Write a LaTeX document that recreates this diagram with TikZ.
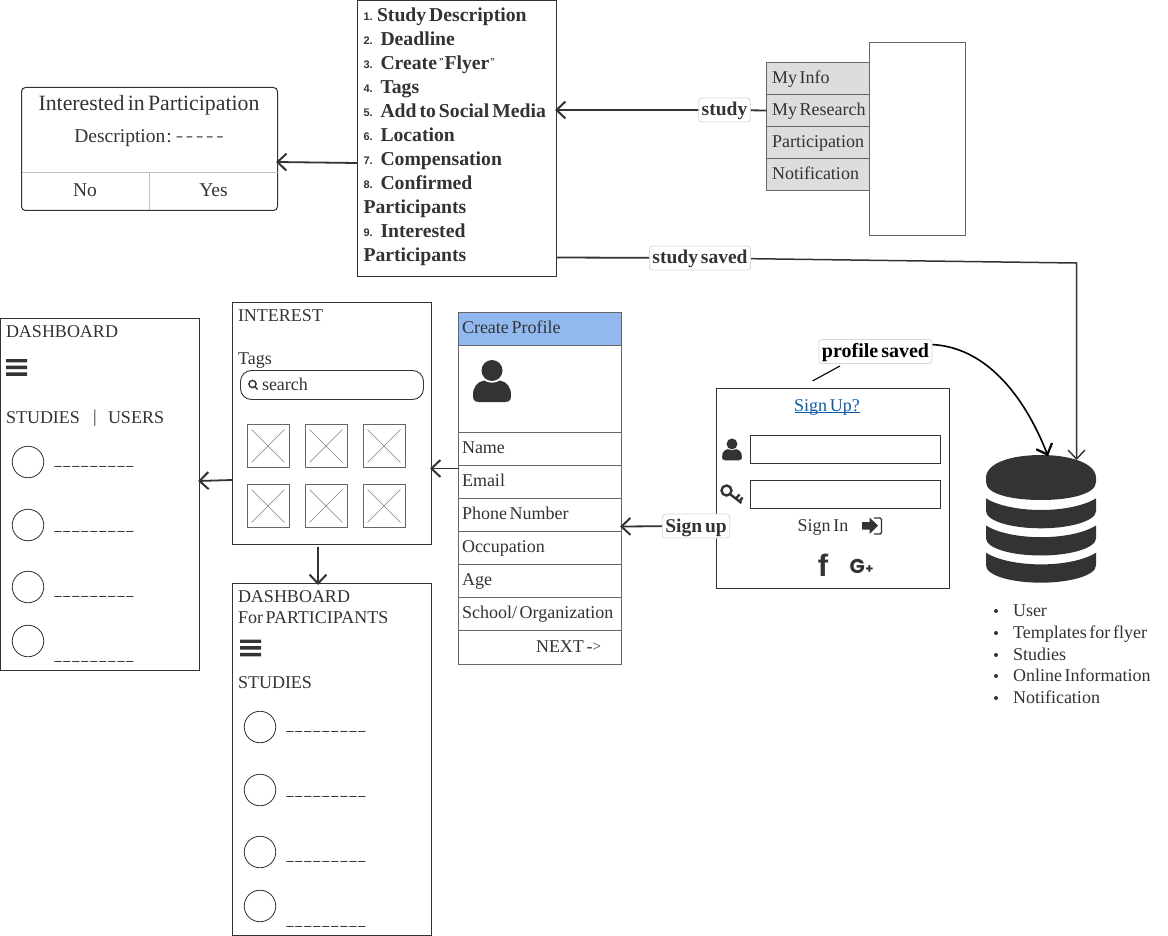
\documentclass[tikz,border=0pt]{standalone}
\usepackage{fontspec}
\setmainfont[WordSpace=0.6]{Liberation Serif}
\newfontfamily\numfont{Liberation Sans}
\newfontfamily\gfont{Poppins}
\usetikzlibrary{arrows.meta,shapes.geometric}
\definecolor{ink}{HTML}{333333}
\definecolor{edgeg}{HTML}{666666}
\definecolor{menug}{HTML}{DDDDDD}
\definecolor{headb}{HTML}{91B9F0}
\definecolor{linkb}{HTML}{0B5CA8}
\tikzset{
 x=1pt,y=-1pt,
 every node/.style={text=ink,inner sep=0pt,outer sep=0pt,font=\fontsize{18}{20}\selectfont},
 txt/.style={anchor=west,text height=12pt,text depth=4pt,yshift=-2.2pt},
 frame/.style={draw=ink,line width=1pt,fill=white},
 greybox/.style={draw=edgeg,line width=1pt},
 barb/.style={-{Straight Barb[length=9pt,width=17pt,line width=2pt]}},
 conn/.style={draw=ink,line width=1.8pt,barb},
 plainconn/.style={draw=ink,line width=1.8pt},
 tag/.style={draw=black!15,fill=white,rounded corners=3pt,line width=0.8pt,inner sep=3pt,text height=15pt,text depth=3pt,font=\fontsize{19.5}{20}\selectfont\bfseries},
 thin box/.style={draw=edgeg,line width=0.9pt},
 xline/.style={draw=black!50,line width=0.5pt},
 circ/.style={circle,draw=ink,line width=0.8pt,minimum size=31.5pt},
 dash text/.style={anchor=west,text height=10pt,text depth=4pt,yshift=1pt,font=\fontsize{14}{16}\selectfont\bfseries},
 boldlist/.style={anchor=west,text height=14pt,text depth=5pt,yshift=-2pt,font=\fontsize{19.7}{22}\selectfont\bfseries},
 num/.style={anchor=west,font=\fontsize{11}{12}\selectfont\numfont\bfseries},
}
\newcommand{\hamb}[2]{\fill[ink] (#1,#2) rectangle +(21,3.4) (#1,#2+6.7) rectangle +(21,3.4) (#1,#2+13.4) rectangle +(21,3.4);}
\newcommand{\person}[3]{% x centre, y top, scale
 \fill[ink] (#1,#2+#3*10.5) circle (#3*10.5);
 \fill[ink] (#1-#3*13,#2+#3*42) .. controls (#1-#3*19,#2+#3*42) and (#1-#3*19,#2+#3*38) .. (#1-#3*19,#2+#3*35)
   .. controls (#1-#3*19,#2+#3*27) and (#1-#3*15,#2+#3*22) .. (#1-#3*8,#2+#3*20.5)
   .. controls (#1-#3*3,#2+#3*23.5) and (#1+#3*3,#2+#3*23.5) .. (#1+#3*8,#2+#3*20.5)
   .. controls (#1+#3*15,#2+#3*22) and (#1+#3*19,#2+#3*27) .. (#1+#3*19,#2+#3*35)
   .. controls (#1+#3*19,#2+#3*38) and (#1+#3*19,#2+#3*42) .. (#1+#3*13,#2+#3*42) -- cycle;}
\newcommand{\xbox}[2]{\draw[thin box] (#1,#2) rectangle +(41.5,43);
 \draw[xline] (#1+4,#2+5) -- (#1+37,#2+38) (#1+37,#2+5) -- (#1+4,#2+38);}
\newcommand{\dashes}{\_\kern2pt\_\kern2pt\_\kern2pt\_\kern2pt\_\kern2pt\_\kern2pt\_\kern2pt\_\kern2pt\_}
\newcommand{\smq}{{\raisebox{5pt}{\fontsize{9}{9}\selectfont"}}}
\begin{document}
\begin{tikzpicture}
\useasboundingbox (0,0) rectangle (1168,936);
\fill[white] (0,0) rectangle (1168,936);

% study list box
\node[frame,minimum width=199pt,minimum height=276pt,anchor=north west] (list) at (357.5,0.5) {};
\foreach \n/\t/\y/\xo in {1./Study Description/15/377,2./Deadline/39/380.5,3./{Create\kern2pt\smq\kern1ptFlyer\kern1pt\smq}/63/380.5,4./Tags/87/380.5,5./Add to Social Media/111/380.5,6./Location/135/380.5,7./Compensation/159/380.5,8./Confirmed/183/380.5,9./Interested/231/380.5}
 {\node[boldlist] (li\y) at (\xo,\y) {\t};
  \node[num] (ln\y) at (363.5,\y+2) {\n};}
\node[boldlist] (lp1) at (363.5,207) {Participants};
\node[boldlist] (lp2) at (363.5,255) {Participants};

% interested box
\node[draw=ink,line width=1pt,rounded corners=4pt,minimum width=256pt,minimum height=123pt,anchor=north west] (intr) at (21.5,87.5) {};
\node (intrt) at (149,105.5) {\fontsize{21.8}{24}\selectfont Interested in Participation};
\node (intrd) at (149,138.5) {\fontsize{19.5}{22}\selectfont Description{\kern1pt:}\kern4pt {\color{black!55}\fontsize{22}{22}\selectfont-\kern2.8pt-\kern2.8pt-\kern2.8pt-\kern2.8pt-}};
\draw[draw=black!25,line width=0.8pt] (21.5,172) -- (277.5,172) (149.5,172) -- (149.5,210.5);
\node (no) at (85,190) {\fontsize{19.5}{22}\selectfont No};
\node (yes) at (213.5,190) {\fontsize{19.5}{22}\selectfont Yes};

% menu
\node[greybox,minimum width=96pt,minimum height=193pt,anchor=north west] (panel) at (869.5,42.5) {};
\foreach \t/\y/\nm in {My Info/62.5/ma,My Research/94.5/mb,Participation/126.5/mc,Notification/158.5/md}
 {\node[greybox,fill=menug,minimum width=103pt,minimum height=32pt,anchor=north west] (\nm) at (766.5,\y) {};
  \node[txt] at (772,\y+15) {\t};}

% dashboard 1
\node[frame,minimum width=199pt,minimum height=352pt,anchor=north west] (dash) at (0.5,318.5) {};
\node[txt] at (6,331) {DASHBOARD};
\hamb{6}{359}
\node[txt] at (6,417.5) {STUDIES};
\node at (95,418) {|};
\node[txt] at (108,417.5) {USERS};
\foreach \y/\d in {462/463,525/528,587/593,641/658}{
 \node[circ] at (28,\y) {};
 \node[dash text] at (54.5,\d) {\dashes};
}

% interest
\node[frame,minimum width=199pt,minimum height=242pt,anchor=north west] (interest) at (232.5,302.5) {};
\node[txt] at (238,315) {INTEREST};
\node[txt] at (238,358.5) {Tags};
\node[draw=ink,line width=0.9pt,rounded corners=11pt,minimum width=183pt,minimum height=29pt,anchor=north west] (search) at (240.5,370.5) {};
\draw[ink,line width=1.4pt] (252.5,384) circle (3.6) (255,386.8) -- (257.5,389.5);
\node[txt] at (262,384.5) {search};
\foreach \x in {247.5,305.5,363.5}\foreach \y in {424.5,484.5}{\xbox{\x}{\y}}

% participants dashboard
\node[frame,minimum width=199pt,minimum height=352pt,anchor=north west] (pdash) at (232.5,583.5) {};
\node[txt] at (238,596) {DASHBOARD};
\node[txt] at (238,617) {For PARTICIPANTS};
\hamb{240}{639.5}
\node[txt] at (238,682) {STUDIES};
\foreach \y/\d in {727/728,790/793,852/858,906/923}{
 \node[circ] at (260,\y) {};
 \node[dash text] at (286.5,\d) {\dashes};
}

% create profile
\node[greybox,fill=headb,minimum width=163pt,minimum height=33pt,anchor=north west] (ph) at (458.5,312.5) {};
\node[txt] at (462,327) {Create Profile};
\node[greybox,minimum width=163pt,minimum height=87pt,anchor=north west] (pp) at (458.5,345.5) {};
\person{492}{360}{1}
\foreach \t/\y/\nm in {Name/432.5/pa,Email/465.5/pb,Phone Number/498.5/pc,Occupation/531.5/pd,Age/564.5/pe,{School/ Organization}/597.5/pf}
 {\node[greybox,minimum width=163pt,minimum height=33pt,anchor=north west] (\nm) at (458.5,\y) {};
  \node[txt] at (462,\y+15) {\t};}
\node[greybox,minimum width=163pt,minimum height=33.5pt,anchor=north west] (pg) at (458.5,630.5) {};
\node[txt] at (536,646) {NEXT -{\fontsize{15}{15}\selectfont\raisebox{0.5pt}{>}}};

% sign up box
\node[frame,minimum width=233pt,minimum height=200pt,anchor=north west] (signup) at (716.5,388.5) {};
\node[txt,anchor=center] (sut) at (827,405) {\color{linkb}Sign Up?};
\draw[linkb,line width=0.8pt] (794.5,412.5) -- (860,412.5);
\node[frame,minimum width=190pt,minimum height=28pt,anchor=north west] (f1) at (750.5,435.5) {};
\node[frame,minimum width=190pt,minimum height=28pt,anchor=north west] (f2) at (750.5,480.5) {};
\person{732}{438.5}{0.52}
% key
\draw[ink,line width=2.4pt] (726.5,490.5) circle (5);
\draw[ink,line width=2.4pt] (730.5,494.5) -- (741.5,503) (736,498.5) -- (739.5,494.5) (739.5,501.5) -- (742.5,497.5);
\node[txt,anchor=center] (si) at (823,525) {Sign In};
% sign-in icon
\fill[ink] (862,522) -- (869.5,522) -- (869.5,517.5) -- (878,525.5) -- (869.5,534) -- (869.5,529.5) -- (862,529.5) -- cycle;
\draw[ink,line width=1.4pt,rounded corners=1.5pt] (874,518) -- (881.5,518) -- (881.5,534) -- (874,534);
% f g+
\node (fb) at (823,565) {\fontsize{31}{31}\selectfont\numfont\bfseries f};
\node (gp) at (861.5,566) {\gfont\bfseries\fontsize{20}{20}\selectfont G{\fontsize{13}{13}\selectfont\kern.5pt +}};

% database
\fill[ink] (986,478) .. controls (986,463) and (1011,455) .. (1041,455) .. controls (1070,455) and (1096,463) .. (1096,478)
  -- (1096,482) .. controls (1096,494) and (1070,500) .. (1041,500) .. controls (1011,500) and (986,494) .. (986,482) -- cycle;
\foreach \d in {0,27.2,54.4}{
\fill[ink] (986,498.3+\d) .. controls (998,506+\d) and (1020,510+\d) .. (1041,510+\d) .. controls (1062,510+\d) and (1084,506+\d) .. (1096,498.3+\d)
  -- (1096,511+\d) .. controls (1096,521+\d) and (1070,528.3+\d) .. (1041,528.3+\d) .. controls (1011,528.3+\d) and (986,521+\d) .. (986,511+\d) -- cycle;}
\coordinate (db1) at (1048,456);
\coordinate (db2) at (1076.5,460);
\foreach \t/\y in {User/610.5,Templates for flyer/632.5,Studies/654.5,Online Information/675.5,Notification/697.5}
 {\node[txt] at (1013,\y) {\t};
  \fill[ink] (996,\y+0.5) circle (2);}

% connectors
\draw[conn] (list.west |- 0,163) -- (276,162);
\coordinate (tstudy) at (724.5,110);
\draw[plainconn] (mb.west) -- (tstudy);
\draw[conn] (tstudy) -- (555,110);
\coordinate (tsaved) at (700,258);
\draw[plainconn] (557,257.5) -- (tsaved);
\draw[draw=ink,line width=1.5pt,-{Straight Barb[length=9pt,width=17pt,line width=1.4pt]}] (tsaved) -- (1076.5,263) -- (db2);
\coordinate (tsign) at (696,526);
\draw[conn] (tsign) -- (620,526.5);
\draw[conn] (interest.west |- 0,480) -- (198,481);
\draw[conn] (pb.west |- 0,468.5) -- (430,468.5);
\draw[conn] (318,546.5) -- (318,585);
% profile saved
\draw[black,line width=1.1pt] (812.5,381) -- (840,366);
\draw[black,line width=1.6pt,-{Straight Barb[length=9pt,width=17pt,line width=2.2pt]}] (930,344.5) .. controls (985,346) and (1024,395) .. (db1);

% labels
\node[tag] (ts) at (tstudy) {study};
\node[tag] (tv) at (tsaved) {study saved};
\node[tag] (tu) at (tsign) {Sign up};
\node[tag,text=black,font=\fontsize{20}{22}\selectfont\bfseries] (tp) at (875.5,351.5) {profile saved};
\end{tikzpicture}
\end{document}
